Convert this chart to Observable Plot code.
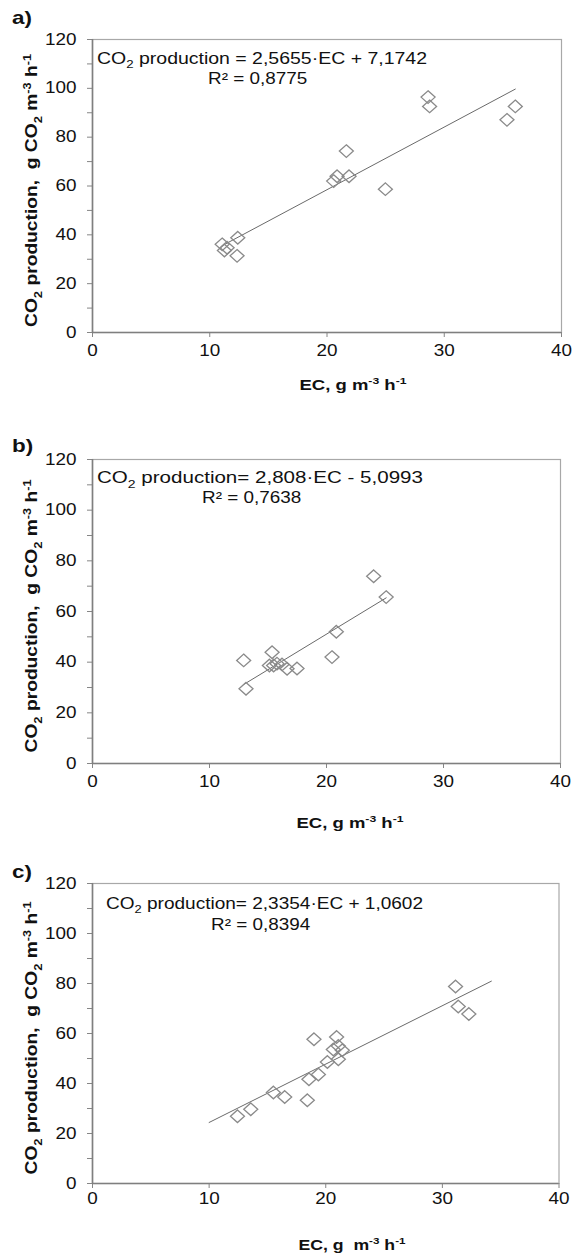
<!DOCTYPE html>
<html><head><meta charset="utf-8">
<script src="https://cdn.jsdelivr.net/npm/d3@7"></script>
<script src="https://cdn.jsdelivr.net/npm/@observablehq/plot@0.6"></script>
<style>
body{margin:0;background:#fff;}
#charts{width:573px;}
#charts svg{display:block;}
</style></head><body><div id="charts"></div>
<script>
// ---- data ----
const panelLabels = ["a)", "b)", "c)"];
const xTicks = [0, 10, 20, 30, 40];
const yTicks = [0, 20, 40, 60, 80, 100, 120];
const yMinorTicks = [10, 30, 50, 70, 90, 110];

const ecA  = [11.06, 11.25, 11.48, 12.39, 12.33, 20.57, 20.86, 21.65, 21.88, 24.98, 28.62, 28.75, 35.35, 36.06];
const co2A = [36.1, 33.6, 34.7, 38.8, 31.4, 62.0, 64.0, 74.3, 64.0, 58.7, 96.4, 92.6, 87.1, 92.6];

const ecB  = [12.92, 13.12, 15.35, 15.12, 15.48, 15.77, 16.2, 16.63, 17.48, 20.47, 20.84, 24.03, 25.1];
const co2B = [40.7, 29.5, 43.9, 38.7, 38.7, 39.4, 39.1, 37.4, 37.5, 42.0, 52.0, 73.9, 65.7];

const ecC  = [12.43, 13.57, 15.51, 16.48, 18.42, 18.56, 19.37, 18.99, 20.14, 20.93, 20.65, 21.08, 21.42, 21.08, 31.13, 31.36, 32.27];
const co2C = [26.9, 29.7, 36.4, 34.6, 33.3, 41.7, 43.6, 57.7, 48.6, 58.6, 53.6, 55.0, 53.3, 49.7, 78.8, 70.8, 67.8];

const slopes = [2.5655, 2.808, 2.3354];
const intercepts = [7.1742, -5.0993, 1.0602];
const trendRanges = [[11.06, 36.06], [13.0, 25.1], [10.0, 34.2]];

const equationLabels = [
  "CO_{2} production = 2,5655·EC + 7,1742",
  "CO_{2} production= 2,808·EC - 5,0993",
  "CO_{2} production= 2,3354·EC + 1,0602"
];
const r2Labels = ["R² = 0,8775", "R² = 0,7638", "R² = 0,8394"];
const yTitle = "CO_{2} production,  g CO_{2} m^{-3} h^{-1}";
const xTitles = ["EC, g m^{-3} h^{-1}", "EC, g m^{-3} h^{-1}", "EC, g  m^{-3} h^{-1}"];

// ---- layout (pixels) ----
const layout = [
  {height: 425, mt: 39, mb: 93, mr: 12,   labelY: 24, eqX: 97,  eqY: 63.5, eqLen: 330, r2X: 208, r2Y: 83.5, xtX: 353, xtY: 390, tickPad: 7},
  {height: 425, mt: 34, mb: 87, mr: 13,   labelY: 27, eqX: 97,  eqY: 58.3, eqLen: 326, r2X: 202, r2Y: 78.3, xtX: 350, xtY: 403, tickPad: 7},
  {height: 408, mt: 33, mb: 75, mr: 14.5, labelY: 28, eqX: 106, eqY: 59,   eqLen: 317, r2X: 211, r2Y: 80,   xtX: 352, xtY: 400, tickPad: 4}
];
const STRETCH = 1.18;
const FONT = "'Liberation Sans', Arial, sans-serif";

const datasets = [[ecA, co2A], [ecB, co2B], [ecC, co2C]];

const diamond = {
  draw(ctx) {
    const w = 7, h = 6.3;
    ctx.moveTo(0, -h); ctx.lineTo(w, 0); ctx.lineTo(0, h); ctx.lineTo(-w, 0); ctx.closePath();
  }
};

function rich(sel, str, size) {
  const parts = str.split(/(_\{[^}]*\}|\^\{[^}]*\})/).filter(s => s.length);
  let shift = 0;
  for (const p of parts) {
    let t, target, fs;
    if (p.startsWith("_{")) { t = p.slice(2, -1); target = size * 0.28; fs = size * 0.68; }
    else if (p.startsWith("^{")) { t = p.slice(2, -1); target = -size * 0.38; fs = size * 0.66; }
    else { t = p; target = 0; fs = size; }
    sel.append("tspan").attr("dy", target - shift).attr("font-size", fs).text(t);
    shift = target;
  }
}

function stretch(node, k, len) {
  const L = node.getComputedTextLength();
  if (L > 0) {
    node.setAttribute("textLength", len != null ? len : L * k);
    node.setAttribute("lengthAdjust", "spacingAndGlyphs");
  }
}

const container = document.getElementById("charts");

datasets.forEach(([xs, ys], i) => {
  const L = layout[i];
  const points = xs.map((x, j) => ({x, y: ys[j]}));
  const trend = trendRanges[i].map(x => ({x, y: slopes[i] * x + intercepts[i]}));
  const svg = Plot.plot({
    width: 573,
    height: L.height,
    marginLeft: 92,
    marginRight: L.mr,
    marginTop: L.mt,
    marginBottom: L.mb,
    x: {domain: [0, 40]},
    y: {domain: [0, 120]},
    style: {fontFamily: FONT, fontSize: "16px", color: "#111", background: "#fff", overflow: "visible"},
    marks: [
      Plot.frame({stroke: "#a8a8a8", strokeWidth: 1.2}),
      Plot.axisX(xTicks, {tickSize: 5, tickPadding: L.tickPad, fontSize: 16, stroke: "#868686", fill: "#111", label: null}),
      Plot.axisY(yTicks, {tickSize: 5, tickPadding: 11, fontSize: 16, stroke: "#868686", fill: "#111", label: null}),
      Plot.axisY(yMinorTicks, {tickSize: 5, tickFormat: () => "", stroke: "#868686", label: null}),
      Plot.ruleX([0], {stroke: "#7f7f7f", strokeWidth: 1.6}),
      Plot.ruleY([0], {stroke: "#7f7f7f", strokeWidth: 1.6}),
      Plot.line(trend, {x: "x", y: "y", stroke: "#6a6a6a", strokeWidth: 1}),
      Plot.dot(points, {x: "x", y: "y", symbol: diamond, r: 5, stroke: "#8a8a8a", fill: "none", strokeWidth: 1.3})
    ]
  });
  container.appendChild(svg);
  const s = d3.select(svg);
  const g = s.append("g").attr("font-family", FONT).attr("fill", "#111")
    .attr("text-anchor", "start").style("white-space", "pre");

  const lab = g.append("text").attr("x", 12).attr("y", L.labelY).attr("font-size", 19).attr("font-weight", "bold").text(panelLabels[i]);
  const eq = g.append("text").attr("x", L.eqX).attr("y", L.eqY).attr("font-size", 16);
  rich(eq, equationLabels[i], 16);
  const r2 = g.append("text").attr("x", L.r2X).attr("y", L.r2Y).attr("font-size", 16).text(r2Labels[i]);
  const cy = L.mt + (L.height - L.mt - L.mb) / 2 + 5;
  const yt = g.append("text").attr("transform", `translate(37,${cy}) rotate(-90)`).attr("text-anchor", "middle")
    .attr("font-size", 17).attr("font-weight", "bold");
  rich(yt, yTitle, 17);
  const xt = g.append("text").attr("x", L.xtX).attr("y", L.xtY).attr("text-anchor", "middle")
    .attr("font-size", 15).attr("font-weight", "bold");
  rich(xt, xTitles[i], 15);

  stretch(lab.node(), STRETCH);
  stretch(eq.node(), 1, L.eqLen);
  stretch(r2.node(), STRETCH);
  stretch(yt.node(), 1, 273);
  stretch(xt.node(), 1, 107);
  svg.querySelectorAll('g[aria-label="x-axis tick label"] text, g[aria-label="y-axis tick label"] text').forEach(t => stretch(t, STRETCH));
});
</script></body></html>
